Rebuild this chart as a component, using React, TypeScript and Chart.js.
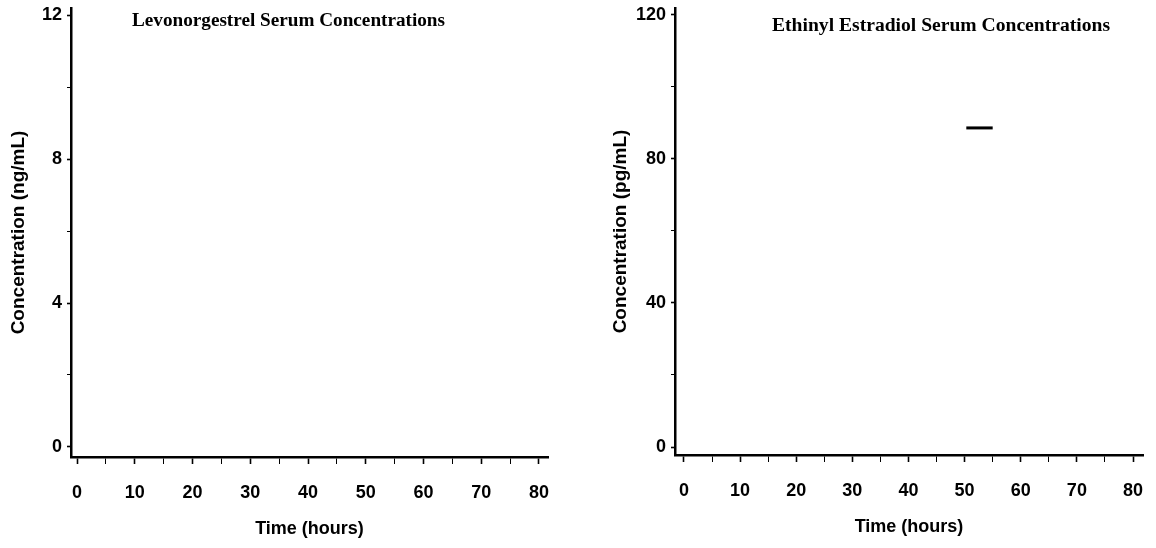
import { useEffect, useRef } from "react";
import { Chart, registerables } from "chart.js";

Chart.register(...registerables);

// ---- Data ----
const xTickValues = [0, 5, 10, 15, 20, 25, 30, 35, 40, 45, 50, 55, 60, 65, 70, 75, 80];
const lngYTickValues = [0, 2, 4, 6, 8, 10, 12];
const eeYTickValues = [0, 20, 40, 60, 80, 100, 120];

const lngTitle = "Levonorgestrel Serum Concentrations";
const eeTitle = "Ethinyl Estradiol Serum Concentrations";
const xAxisTitle = "Time (hours)";
const lngYAxisTitle = "Concentration (ng/mL)";
const eeYAxisTitle = "Concentration (pg/mL)";

// Levonorgestrel panel: no visible data marks
const lngTime: number[] = [];
const lngConc: number[] = [];

// Ethinyl estradiol panel: short dash visible near 50-55 h
const eeTime = [50.3, 55.0];
const eeConc = [88.6, 88.6];

const SANS = '"Liberation Sans", Arial, sans-serif';
const SERIF = '"Liberation Serif", "Times New Roman", serif';

const panelTitlePlugin = {
  id: "panelTitle",
  afterDraw(chart: any, _args: any, opts: any) {
    if (!opts || !opts.text) return;
    const ctx = chart.ctx;
    ctx.save();
    ctx.font = `bold ${opts.size}px ${SERIF}`;
    ctx.fillStyle = "#000";
    ctx.textBaseline = "middle";
    ctx.textAlign = "left";
    const w = ctx.measureText(opts.text).width;
    const sx = opts.width / w;
    ctx.translate(opts.x, opts.y);
    ctx.scale(sx, 1);
    ctx.fillText(opts.text, 0, 0);
    ctx.restore();
  },
};

type PanelCfg = {
  xs: number[];
  ys: number[];
  yTicks: number[];
  majorY: number;
  xMin: number;
  xMax: number;
  yMin: number;
  yMax: number;
  yAxisWidth: number;
  xAxisHeight: number;
  padRight: number;
  padTop: number;
  yTitle: string;
  yTitlePad: number;
  xTitlePad: number;
  title: string;
  titleX: number;
  titleY: number;
  titleW: number;
};

function Panel({ cfg }: { cfg: PanelCfg }) {
  const ref = useRef<HTMLCanvasElement | null>(null);
  useEffect(() => {
    if (!ref.current) return;
    const points = cfg.xs.map((x, i) => ({ x, y: cfg.ys[i] }));
    const chart = new Chart(ref.current, {
      type: "line",
      data: {
        datasets: [
          {
            data: points,
            borderColor: "#000",
            borderWidth: 3,
            pointRadius: 0,
            fill: false,
          },
        ],
      },
      plugins: [panelTitlePlugin],
      options: {
        animation: false,
        responsive: false,
        maintainAspectRatio: false,
        layout: { padding: { left: 0, right: cfg.padRight, top: cfg.padTop, bottom: 0 } },
        plugins: {
          legend: { display: false },
          tooltip: { enabled: false },
          title: { display: false },
          panelTitle: { text: cfg.title, x: cfg.titleX, y: cfg.titleY, width: cfg.titleW, size: 18 },
        } as any,
        scales: {
          x: {
            type: "linear",
            min: cfg.xMin,
            max: cfg.xMax,
            afterBuildTicks: (scale: any) => {
              scale.ticks = xTickValues.map((v) => ({ value: v }));
            },
            afterFit: (scale: any) => {
              scale.height = cfg.xAxisHeight;
              scale.paddingLeft = 0;
              scale.paddingRight = 0;
            },
            ticks: {
              autoSkip: false,
              includeBounds: false,
              maxRotation: 0,
              color: "#000",
              padding: 18,
              font: { family: SANS, size: 18, weight: "bold" },
              callback: (v: any) => (Number(v) % 10 === 0 ? String(v) : ""),
            },
            grid: {
              display: true,
              drawOnChartArea: false,
              drawTicks: true,
              tickLength: 7,
              tickColor: "#000",
              tickWidth: (c: any) => (c.tick && c.tick.value % 10 === 0 ? 1.6 : 1),
            },
            border: { display: true, color: "#000", width: 2.5 },
            title: {
              display: true,
              text: xAxisTitle,
              color: "#000",
              font: { family: SANS, size: 18, weight: "bold" },
              padding: { top: 0, bottom: cfg.xTitlePad },
            },
          },
          y: {
            type: "linear",
            min: cfg.yMin,
            max: cfg.yMax,
            afterBuildTicks: (scale: any) => {
              scale.ticks = cfg.yTicks.map((v) => ({ value: v }));
            },
            afterFit: (scale: any) => {
              scale.width = cfg.yAxisWidth;
              scale.paddingTop = 0;
              scale.paddingBottom = 0;
            },
            ticks: {
              autoSkip: false,
              includeBounds: false,
              color: "#000",
              padding: 5,
              font: { family: SANS, size: 18, weight: "bold" },
              callback: (v: any) => (Number(v) % cfg.majorY === 0 ? String(v) : ""),
            },
            grid: {
              display: true,
              drawOnChartArea: false,
              drawTicks: true,
              tickLength: 4,
              tickColor: "#000",
              tickWidth: (c: any) => (c.tick && c.tick.value % cfg.majorY === 0 ? 1.6 : 1),
            },
            border: { display: true, color: "#000", width: 2.5 },
            title: {
              display: true,
              text: cfg.yTitle,
              color: "#000",
              font: { family: SANS, size: 19, weight: "bold" },
              padding: { top: cfg.yTitlePad, bottom: 0 },
            },
          },
        },
      } as any,
    });
    return () => chart.destroy();
  }, [cfg]);
  return <canvas ref={ref} width={578} height={548} style={{ display: "block", width: 578, height: 548 }} />;
}

const leftCfg: PanelCfg = {
  xs: lngTime,
  ys: lngConc,
  yTicks: lngYTickValues,
  majorY: 4,
  xMin: -1.05,
  xMax: 81.56,
  yMin: -0.28,
  yMax: 12.2,
  yAxisWidth: 71,
  xAxisHeight: 91,
  padRight: 30,
  padTop: 8,
  yTitle: lngYAxisTitle,
  yTitlePad: 7,
  xTitlePad: 8,
  title: lngTitle,
  titleX: 132,
  titleY: 21,
  titleW: 313,
};

const rightCfg: PanelCfg = {
  xs: eeTime,
  ys: eeConc,
  yTicks: eeYTickValues,
  majorY: 40,
  xMin: -1.6,
  xMax: 81.78,
  yMin: -2.22,
  yMax: 121.9,
  yAxisWidth: 97,
  xAxisHeight: 93,
  padRight: 13,
  padTop: 8,
  yTitle: eeYAxisTitle,
  yTitlePad: 31,
  xTitlePad: 10,
  title: eeTitle,
  titleX: 194,
  titleY: 26,
  titleW: 338,
};

export default function App() {
  return (
    <div style={{ position: "absolute", left: 0, top: 0, width: 1156, height: 548, background: "#fff", overflow: "hidden" }}>
      <div style={{ position: "absolute", left: 0, top: 0 }}>
        <Panel cfg={leftCfg} />
      </div>
      <div style={{ position: "absolute", left: 578, top: 0 }}>
        <Panel cfg={rightCfg} />
      </div>
    </div>
  );
}
